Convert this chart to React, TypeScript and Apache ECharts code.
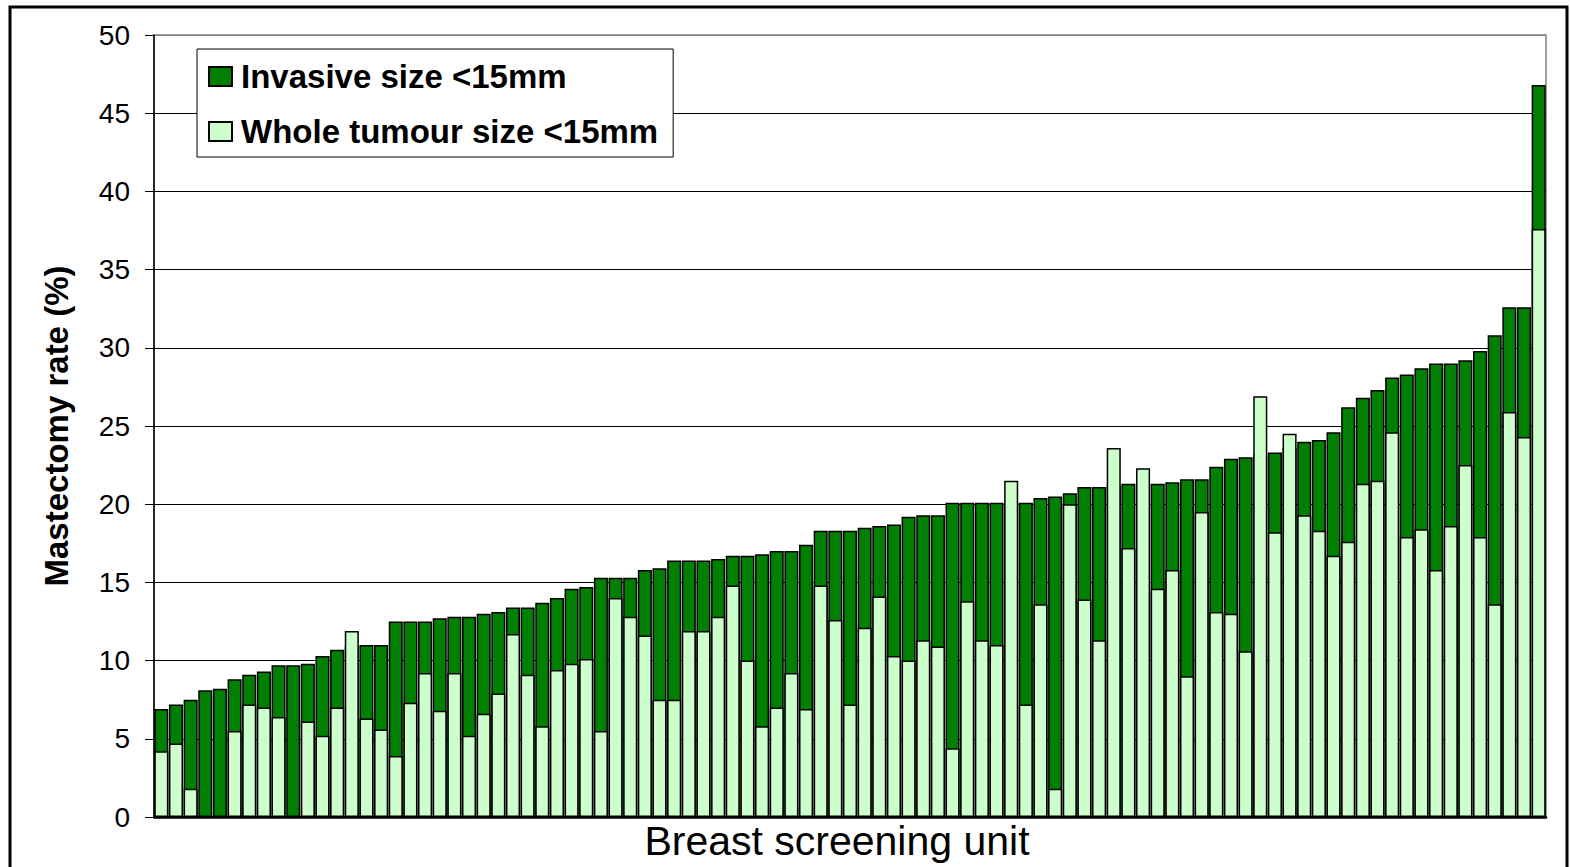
import React, { useEffect, useRef } from "react";
import * as echarts from "echarts";

// Mastectomy rate (%) per breast screening unit, sorted by invasive-size rate
const invasiveSize: number[] = [
  6.9, 7.2, 7.5, 8.1, 8.2, 8.8, 9.1, 9.3, 9.7, 9.7,
  9.8, 10.3, 10.7, 10.9, 11.0, 11.0, 12.5, 12.5, 12.5, 12.7,
  12.8, 12.8, 13.0, 13.1, 13.4, 13.4, 13.7, 14.0, 14.6, 14.7,
  15.3, 15.3, 15.3, 15.8, 15.9, 16.4, 16.4, 16.4, 16.5, 16.7,
  16.7, 16.8, 17.0, 17.0, 17.4, 18.3, 18.3, 18.3, 18.5, 18.6,
  18.7, 19.2, 19.3, 19.3, 20.1, 20.1, 20.1, 20.1, 20.1, 20.1,
  20.4, 20.5, 20.7, 21.1, 21.1, 21.2, 21.3, 21.3, 21.3, 21.4,
  21.6, 21.6, 22.4, 22.9, 23.0, 23.2, 23.3, 23.6, 24.0, 24.1,
  24.6, 26.2, 26.8, 27.3, 28.1, 28.3, 28.7, 29.0, 29.0, 29.2,
  29.8, 30.8, 32.6, 32.6, 46.8,
];

const wholeTumourSize: number[] = [
  4.2, 4.7, 1.8, 0, 0, 5.5, 7.2, 7.0, 6.4, 0,
  6.1, 5.2, 7.0, 11.9, 6.3, 5.6, 3.9, 7.3, 9.2, 6.8,
  9.2, 5.2, 6.6, 7.9, 11.7, 9.1, 5.8, 9.4, 9.8, 10.1,
  5.5, 14.0, 12.8, 11.6, 7.5, 7.5, 11.9, 11.9, 12.8, 14.8,
  10.0, 5.8, 7.0, 9.2, 6.9, 14.8, 12.6, 7.2, 12.1, 14.1,
  10.3, 10.0, 11.3, 10.9, 4.4, 13.8, 11.3, 11.0, 21.5, 7.2,
  13.6, 1.8, 20.0, 13.9, 11.3, 23.6, 17.2, 22.3, 14.6, 15.8,
  9.0, 19.5, 13.1, 13.0, 10.6, 26.9, 18.2, 24.5, 19.3, 18.3,
  16.7, 17.6, 21.3, 21.5, 24.6, 17.9, 18.4, 15.8, 18.6, 22.5,
  17.9, 13.6, 25.9, 24.3, 37.6,
];

const units: string[] = invasiveSize.map((_, i) => `Unit ${i + 1}`);

const seriesNames = ["Invasive size <15mm", "Whole tumour size <15mm"];
const yTicks = { min: 0, max: 50, interval: 5 };
const xTitle = "Breast screening unit";
const yTitle = "Mastectomy rate (%)";

const FONT = "'Liberation Sans', Arial, Helvetica, sans-serif";

export default function App() {
  const ref = useRef<HTMLDivElement>(null);

  useEffect(() => {
    if (!ref.current) return;
    const chart = echarts.init(ref.current, undefined, { renderer: "svg" });
    const splitColors = [
      "#000", "#000", "#000", "#000", "#000", "#000",
      "#000", "#000", "#000", "#000", "#808080",
    ];
    chart.setOption({
      animation: false,
      backgroundColor: "#ffffff",
      textStyle: { fontFamily: FONT },
      graphic: [
        {
          type: "rect",
          shape: { x: 10, y: 7, width: 1557, height: 900 },
          style: { fill: "none", stroke: "#000", lineWidth: 3 },
          silent: true,
          z: 100,
        },
      ],
      grid: {
        left: 154,
        right: 24,
        top: 35,
        bottom: 50,
        outerBoundsMode: "none",
        containLabel: false,
        show: true,
        borderColor: "#808080",
        borderWidth: 1.5,
        backgroundColor: "transparent",
      },
      legend: {
        data: seriesNames,
        orient: "vertical",
        left: 197,
        top: 49,
        padding: [11, 15, 9, 11],
        itemGap: 22,
        itemWidth: 23,
        itemHeight: 19,
        icon: "rect",
        selectedMode: false,
        backgroundColor: "#ffffff",
        borderColor: "#000",
        borderWidth: 1,
        textStyle: {
          fontFamily: FONT,
          fontWeight: "bold",
          fontSize: 33,
          color: "#000",
          padding: [0, 0, 0, 4],
        },
        z: 10,
      },
      xAxis: {
        type: "category",
        data: units,
        name: xTitle,
        nameLocation: "middle",
        nameGap: 3,
        nameTextStyle: {
          fontFamily: FONT,
          fontSize: 41,
          color: "#000",
          verticalAlign: "top",
          padding: [0, 26, 0, 0],
        },
        axisLine: { show: true, lineStyle: { color: "#000", width: 2.5 } },
        axisTick: { show: false },
        axisLabel: { show: false },
        splitLine: { show: false },
      },
      yAxis: {
        type: "value",
        min: yTicks.min,
        max: yTicks.max,
        interval: yTicks.interval,
        name: yTitle,
        nameLocation: "middle",
        nameRotate: 90,
        nameGap: 81,
        nameTextStyle: {
          fontFamily: FONT,
          fontSize: 33,
          fontWeight: "bold",
          color: "#000",
        },
        axisLine: { show: true, lineStyle: { color: "#000", width: 1.5 } },
        axisTick: {
          show: true,
          length: 9,
          inside: false,
          lineStyle: { color: "#000", width: 1 },
        },
        axisLabel: {
          fontFamily: FONT,
          fontSize: 28,
          color: "#000",
          margin: 24,
        },
        splitLine: {
          show: true,
          lineStyle: { color: splitColors, width: 1 },
        },
      },
      series: [
        {
          name: seriesNames[0],
          type: "bar",
          data: invasiveSize,
          barGap: "-100%",
          barCategoryGap: "4%",
          itemStyle: { color: "#007F00", borderColor: "#000", borderWidth: 1.5 },
          z: 2,
        },
        {
          name: seriesNames[1],
          type: "bar",
          data: wholeTumourSize,
          barGap: "-100%",
          barCategoryGap: "4%",
          itemStyle: { color: "#CCFFCC", borderColor: "#000", borderWidth: 1.5 },
          z: 3,
        },
      ],
    });
    return () => chart.dispose();
  }, []);

  return (
    <div
      ref={ref}
      style={{ position: "fixed", left: 0, top: 0, width: 1570, height: 867 }}
    />
  );
}
